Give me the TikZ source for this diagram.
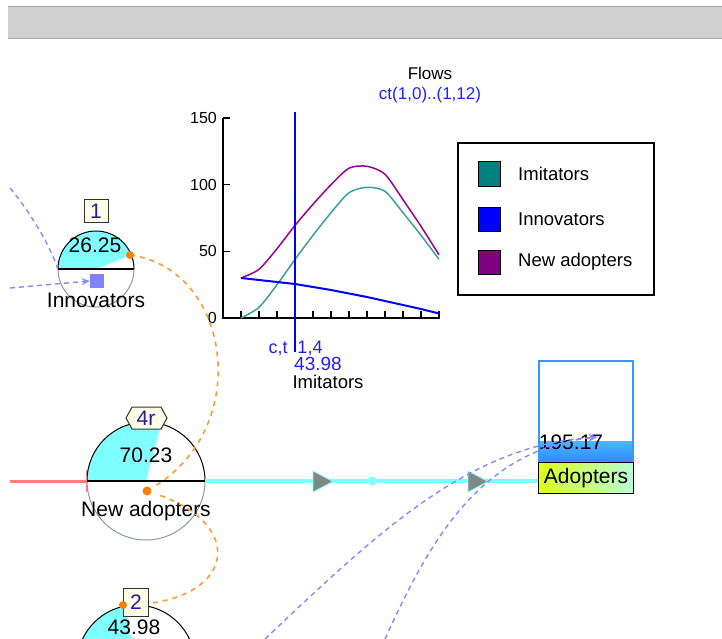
\documentclass[tikz,border=0pt]{standalone}
\usepackage{fontspec}
\setmainfont{Liberation Sans}
\usetikzlibrary{arrows.meta,shapes.geometric}

\definecolor{barfill}{HTML}{D0D0D0}
\definecolor{barline}{HTML}{A8A8A8}
\definecolor{aqua}{HTML}{80FFFF}
\definecolor{linkorange}{HTML}{FF9933}
\definecolor{dotorange}{HTML}{FF8000}
\definecolor{linkblue}{HTML}{8888FF}
\definecolor{rimgray}{HTML}{909898}
\definecolor{tagfill}{HTML}{FFFCE8}
\definecolor{tagtext}{HTML}{202090}
\definecolor{plotteal}{HTML}{3AA0A0}
\definecolor{plotpurple}{HTML}{990099}
\definecolor{legteal}{HTML}{008080}
\definecolor{legpurple}{HTML}{800080}
\definecolor{stockblue}{HTML}{3399FF}
\definecolor{pipered}{HTML}{FF8080}
\definecolor{valvegray}{HTML}{808888}
\definecolor{cursorblue}{HTML}{2020FF}

\begin{document}
\begin{tikzpicture}[x=1pt,y=-1pt,
  txt/.style={inner sep=0pt, font=\fontsize{21}{24}\selectfont},
  small/.style={inner sep=0pt, font=\fontsize{17}{20}\selectfont},
  legtxt/.style={inner sep=0pt, anchor=west, font=\fontsize{18.5}{21}\selectfont},
  tag/.style={draw=black!80, fill=tagfill, text=tagtext, line width=1pt, inner sep=0pt,
              font=\fontsize{21}{24}\selectfont},
  orangelink/.style={linkorange, line width=1.6pt, dash pattern=on 5pt off 5pt},
  bluelink/.style={linkblue, line width=1.4pt, dash pattern=on 5pt off 4pt},
  pipe/.style={aqua, line width=3.5pt},
  axis/.style={black, line width=1.8pt},
  swatch/.style={draw=black, line width=1pt, minimum width=22pt, minimum height=24pt, inner sep=0pt},
  orangedot/.style={fill=dotorange}]
\useasboundingbox (0,0) rectangle (722,639);
\clip (0,0) rectangle (722,639);

% title bar
\fill[barfill] (8,6) rectangle (722,39);
\draw[barline, line width=1.5pt] (8,6.5) -- (722,6.5);
\draw[barline, line width=1.5pt] (8,38.5) -- (722,38.5);

% ---------- graph ----------
\draw[axis] (223,118) -- (223,318) -- (440,318);
\foreach \yy/\lab in {118/150, 184.7/100, 251.3/50, 318/0}{
  \draw[axis, line width=1.5pt] (223,\yy) -- (230,\yy);
  \node[small, anchor=east, font=\fontsize{16}{19}\selectfont] at (217,\yy) {\lab};
}
\foreach \k in {0,...,11}{
  \draw[axis, line width=1.5pt] (241+18*\k,318) -- (241+18*\k,311);
}
\draw[plotteal, line width=1.5pt] plot[smooth, tension=0.45] coordinates {
  (241,318) (259,307.3) (277,284.7) (295,259.4) (313,235.3) (331,212.7)
  (349,192.7) (367,187.3) (385,191.3) (403,212.7) (421,235.3) (439,259.3)};
\draw[plotpurple, line width=1.5pt] plot[smooth, tension=0.45] coordinates {
  (241,278) (259,269.3) (277,248.7) (295,225.4) (313,204.3) (331,184.7)
  (349,168.2) (367,166.3) (385,174.3) (403,199.7) (421,226.3) (439,254.8)};
\draw[blue, line width=2pt] plot coordinates {
  (241,278) (259,280) (277,282) (295,284) (313,287) (331,290)
  (349,293.5) (367,297) (385,301) (403,305) (421,309) (439,313.5)};
\draw[blue, line width=1.5pt] (295,112) -- (295,352);

\node[small] (gtitle) at (430,73) {Flows};
\node[small, text=cursorblue] (grange) at (430,95) {ct(1,0)..(1,12)};
\node[small, text=cursorblue, font=\fontsize{18}{20}\selectfont] (ctlab) at (278,349) {c,t};
\node[small, text=cursorblue, font=\fontsize{18}{20}\selectfont] (ctval) at (310,348) {1,4};
\node[small, text=cursorblue, font=\fontsize{19}{21}\selectfont] (curval) at (318,364) {43.98};
\node[small, font=\fontsize{18.5}{21}\selectfont] (curname) at (328,382) {Imitators};

% legend
\node[draw=black, line width=1.6pt, minimum width=196pt, minimum height=152pt, inner sep=0pt]
  (legend) at (556,219) {};
\node[swatch, fill=legteal] (swA) at (489,174) {};
\node[swatch, fill=blue] (swB) at (489,219) {};
\node[swatch, fill=legpurple] (swC) at (489,262) {};
\node[legtxt] (lgA) at (518,174) {Imitators};
\node[legtxt] (lgB) at (518,219) {Innovators};
\node[legtxt] (lgC) at (518,262) {New adopters};

% ---------- Innovators ----------
\node[circle, minimum size=76pt, inner sep=0pt] (innov) at (96,269) {};
\fill[aqua] (innov.center) -- ++(-22:38) arc[start angle=-22, end angle=-180, radius=38] -- cycle;
\draw[black, line width=1pt] (134,269) arc[start angle=0, end angle=-180, radius=38];
\draw[rimgray, line width=1pt] (58,269) arc[start angle=180, end angle=0, radius=38];
\draw[black, line width=1.8pt] (58,269) -- (134,269);
\node[txt] (innovval) at (95,245) {26.25};
\node[txt] (innovname) at (96,300) {Innovators};
\node[tag, minimum width=24pt, minimum height=23pt] (tagA) at (96,211) {1};
\node[fill=linkblue!95!blue, minimum size=14pt, inner sep=0pt] (ghost) at (97,281) {};
\coordinate (innovdot) at (130,255);

% ---------- New adopters ----------
\node[circle, minimum size=118pt, inner sep=0pt] (newad) at (146,481) {};
\fill[aqua] (newad.center) -- ++(-75:59) arc[start angle=-75, end angle=-180, radius=59] -- cycle;
\draw[black, line width=1pt] (205,481) arc[start angle=0, end angle=-180, radius=59];
\draw[rimgray, line width=1pt] (87,481) arc[start angle=180, end angle=0, radius=59];
\node[txt] (newadval) at (146,455) {70.23};
\node[txt] (newadname) at (146,511) {New adopters};
\coordinate (newaddot) at (147,491);

% ---------- Imitators ----------
\node[circle, minimum size=118pt, inner sep=0pt] (imit) at (136,664) {};
\fill[aqua] (imit.center) -- ++(-101:59) arc[start angle=-101, end angle=-180, radius=59] -- cycle;
\draw[black, line width=1pt] (195,664) arc[start angle=0, end angle=-180, radius=59];
\node[txt] (imitval) at (134,627) {43.98};
\coordinate (imitdot) at (123,605);

% ---------- flow pipe ----------
\draw[pipered, line width=3pt] (10,481) -- (newad.west);
\draw[pipered, line width=1.5pt] (86.5,470) -- (86.5,492);
\node[minimum width=94pt, minimum height=30pt, inner sep=0pt] (adlabel) at (586,478) {};
\draw[pipe] (newad.east) -- (newad.east -| adlabel.west);
\draw[black, line width=1.8pt] (newad.west) -- (newad.east);
\fill[aqua] (372,481) circle[radius=4.5];
\foreach \vx in {313,468}{
  \fill[valvegray, draw=aqua, line width=0.8pt] (\vx,471) -- (\vx+20,481.5) -- (\vx,492) -- cycle;
}

% ---------- Adopters stock ----------
\node[minimum width=94pt, minimum height=101pt, inner sep=0pt] (stock) at (586,411.5) {};
\shade[top color=stockblue!70!aqua, bottom color=stockblue!90!blue] (539,441) rectangle (633,462);
\draw[stockblue, line width=1.5pt] (stock.north west) rectangle (stock.south east);
\node[txt] (stockval) at (571,442) {195.17};
\shade[left color=yellow!85!green!90!white, right color=aqua!60!green!40!white, draw=black, line width=1.2pt]
  (adlabel.north west) rectangle (adlabel.south east);
\node[txt] (adname) at (adlabel.center) {Adopters};

% ---------- links ----------
\coordinate (srcA) at (10,188);
\coordinate (srcB) at (10,288);
\coordinate (srcC) at (265,639);
\coordinate (srcD) at (385,639);
\coordinate (stockin) at (597,437);
\draw[bluelink] (srcA) .. controls (30,212) and (50,245) .. (innov.west);
\draw[bluelink, -{Stealth[length=8pt,width=7pt]}] (srcB) -- (ghost.west);
\draw[bluelink, -{Stealth[length=8pt,width=7pt]}] (srcC) .. controls (380,530) and (470,445) .. (stockin);
\draw[bluelink, -{Stealth[length=8pt,width=7pt]}] (srcD) .. controls (430,540) and (480,450) .. (stockin);

\draw[orangelink, shorten >=9pt] (innovdot) .. controls (230,268) and (254,425) .. (newaddot);
\draw[orangelink, shorten >=9pt] (imitdot) .. controls (235,605) and (250,525) .. (newaddot);
\fill[orangedot] (innovdot) circle[radius=4];
\fill[orangedot] (newaddot) circle[radius=4.5];

% value tags drawn on top
\filldraw[draw=black!80, fill=tagfill, line width=1pt]
  (126,418) -- (132,407) -- (161,407) -- (167,418) -- (161,429) -- (132,429) -- cycle;
\node[inner sep=0pt, text=tagtext, font=\fontsize{21}{24}\selectfont] (tagB) at (146,418) {4r};
\node[tag, minimum width=25pt, minimum height=28pt] (tagC) at (136,602) {2};
\fill[orangedot] (imitdot) circle[radius=4];
\end{tikzpicture}
\end{document}
